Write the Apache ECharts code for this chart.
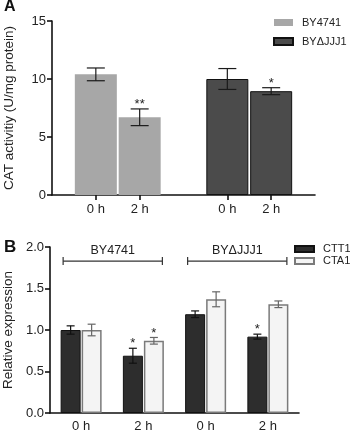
<!DOCTYPE html>
<html>
<head>
<meta charset="utf-8">
<script src="https://cdn.jsdelivr.net/npm/echarts@6/dist/echarts.min.js"></script>
<style>html,body{margin:0;padding:0;background:#fff}#chart{width:350px;height:431px}</style>
</head>
<body>
<div id="chart"></div>
<script>
var FONT = '"Liberation Sans", Arial, sans-serif';

// panel A - CAT activity
var posA = [0, 1, 3, 4];
var labelsA = ['0 h', '2 h', '0 h', '2 h'];
var wtA = [10.4, 6.7];
var wtErrA = [0.55, 0.72];
var mutA = [10.0, 8.95];
var mutErrA = [0.9, 0.3];
var sigA = ['', '**', '', '*'];

// panel B - relative expression
var catsB = ['0 h', '2 h', '0 h', '2 h'];
var ctt1 = [1.0, 0.69, 1.19, 0.92];
var ctt1Err = [0.05, 0.09, 0.04, 0.03];
var cta1 = [1.0, 0.87, 1.37, 1.31];
var cta1Err = [0.07, 0.04, 0.09, 0.04];
var sigCtt1 = ['', '*', '', '*'];
var sigCta1 = ['', '*', '', ''];
var strains = ['BY4741', 'BYΔJJJ1'];
var strainSpan = [[0, 1], [2, 3]];
var bracketY = 1.83;

var allA = wtA.concat(mutA);
var allErrA = wtErrA.concat(mutErrA);

// error bar drawer, values read from the arrays by data index
function errItem(xs, ys, es, sig, half, color, dx) {
    return function (params, api) {
        var i = params.dataIndex;
        var top = api.coord([xs[i], ys[i] + es[i]]);
        var bot = api.coord([xs[i], ys[i] - es[i]]);
        var cx = top[0] + dx;
        var st = {stroke: color, lineWidth: 1.2};
        var kids = [
            {type: 'line', shape: {x1: cx, y1: top[1], x2: cx, y2: bot[1]}, style: st},
            {type: 'line', shape: {x1: cx - half, y1: top[1], x2: cx + half, y2: top[1]}, style: st},
            {type: 'line', shape: {x1: cx - half, y1: bot[1], x2: cx + half, y2: bot[1]}, style: st}
        ];
        if (sig[i]) {
            kids.push({type: 'text', style: {text: sig[i], x: cx, y: top[1] + 2, textAlign: 'center',
                textVerticalAlign: 'bottom', font: '13px ' + FONT, fill: '#222'}});
        }
        return {type: 'group', children: kids};
    };
}

var axisTxt = {color: '#222', fontSize: 13, fontFamily: FONT};
var lineSt = {color: '#111', width: 1.6};
var idxB = catsB.map(function (c, i) { return i; });

var chart = echarts.init(document.getElementById('chart'));
chart.setOption({
    animation: false,
    title: [
        {text: 'A', left: 4, top: -1, padding: 0,
            textStyle: {fontSize: 16, fontWeight: 'bold', fontFamily: FONT, color: '#111'}},
        {text: 'B', left: 4, top: 239, padding: 0,
            textStyle: {fontSize: 17, fontWeight: 'bold', fontFamily: FONT, color: '#111'}}
    ],
    legend: [
        {data: ['BY4741', 'BYΔJJJ1'], orient: 'vertical', left: 268, top: 12, icon: 'rect',
            itemWidth: 19, itemHeight: 7, itemGap: 8,
            textStyle: {fontSize: 11, fontFamily: FONT, color: '#222', padding: [0, 0, 0, 4]}},
        {data: ['CTT1', 'CTA1'], orient: 'vertical', left: 289, top: 238, icon: 'rect',
            itemWidth: 19, itemHeight: 6, itemGap: 0,
            textStyle: {fontSize: 11, lineHeight: 12, fontFamily: FONT, color: '#222', padding: [0, 0, 0, 4]}}
    ],
    grid: [
        {left: 52, top: 21, width: 263, height: 174, outerBoundsMode: 'none'},
        {left: 50, top: 247, width: 249, height: 166, outerBoundsMode: 'none'}
    ],
    xAxis: [
        {type: 'value', gridIndex: 0, min: -1, max: 5, splitLine: {show: false},
            axisLine: {show: true, onZero: false, lineStyle: lineSt},
            axisTick: {show: true, length: 5, customValues: posA, lineStyle: lineSt},
            axisLabel: Object.assign({margin: 8, customValues: posA, formatter: function (v) {
                return labelsA[posA.indexOf(v)];
            }}, axisTxt)},
        {type: 'category', gridIndex: 1, data: catsB,
            axisLine: {lineStyle: lineSt},
            axisTick: {alignWithLabel: true, length: 5, lineStyle: lineSt},
            axisLabel: Object.assign({margin: 7}, axisTxt)}
    ],
    yAxis: [
        {type: 'value', gridIndex: 0, min: 0, max: 15, interval: 5, splitLine: {show: false},
            name: 'CAT activitiy (U/mg protein)', nameLocation: 'middle', nameGap: 36,
            nameTextStyle: {fontSize: 13.5, fontFamily: FONT, color: '#222'},
            axisLine: {show: true, onZero: false, lineStyle: lineSt},
            axisTick: {show: true, length: 5, lineStyle: lineSt},
            axisLabel: Object.assign({margin: 6}, axisTxt)},
        {type: 'value', gridIndex: 1, min: 0, max: 2, interval: 0.5, splitLine: {show: false},
            name: 'Relative expression', nameLocation: 'middle', nameGap: 35,
            nameTextStyle: {fontSize: 13.5, fontFamily: FONT, color: '#222'},
            axisLine: {show: true, onZero: false, lineStyle: lineSt},
            axisTick: {show: true, length: 5, lineStyle: lineSt},
            axisLabel: Object.assign({margin: 6, formatter: function (v) { return v.toFixed(1); }}, axisTxt)}
    ],
    series: [
        {name: 'BY4741', type: 'bar', xAxisIndex: 0, yAxisIndex: 0, barWidth: 42, barGap: '-100%',
            itemStyle: {color: '#a7a7a7'},
            data: wtA.map(function (v, i) { return [posA[i], v]; })},
        {name: 'BYΔJJJ1', type: 'bar', xAxisIndex: 0, yAxisIndex: 0, barWidth: 42, barGap: '-100%',
            itemStyle: {color: '#4b4b4b', borderColor: '#111', borderWidth: 1},
            data: mutA.map(function (v, i) { return [posA[i + 2], v]; })},
        {type: 'custom', xAxisIndex: 0, yAxisIndex: 0, z: 5, clip: false,
            renderItem: errItem(posA, allA, allErrA, sigA, 9, '#1a1a1a', 0),
            data: allA.map(function (v, i) { return [posA[i], v]; })},
        {name: 'CTT1', type: 'bar', xAxisIndex: 1, yAxisIndex: 1, barWidth: 20, barGap: '5%',
            itemStyle: {color: '#2d2d2d', borderColor: '#111', borderWidth: 1},
            data: ctt1},
        {name: 'CTA1', type: 'bar', xAxisIndex: 1, yAxisIndex: 1, barWidth: 20, barGap: '5%',
            itemStyle: {color: '#f4f4f4', borderColor: '#7a7a7a', borderWidth: 1.5},
            data: cta1},
        {type: 'custom', xAxisIndex: 1, yAxisIndex: 1, z: 5, clip: false,
            renderItem: errItem(idxB, ctt1, ctt1Err, sigCtt1, 4, '#111', -10.5),
            data: ctt1.map(function (v, i) { return [i, v]; })},
        {type: 'custom', xAxisIndex: 1, yAxisIndex: 1, z: 5, clip: false,
            renderItem: errItem(idxB, cta1, cta1Err, sigCta1, 4, '#666', 10.5),
            data: cta1.map(function (v, i) { return [i, v]; })},
        {type: 'custom', xAxisIndex: 1, yAxisIndex: 1, z: 5, clip: false,
            renderItem: function (params, api) {
                var s = strainSpan[params.dataIndex];
                var a = api.coord([s[0], bracketY]);
                var b = api.coord([s[1], bracketY]);
                var x1 = a[0] - 18, x2 = b[0] + 19, y = a[1];
                var st = {stroke: '#333', lineWidth: 1.2};
                return {type: 'group', children: [
                    {type: 'line', shape: {x1: x1, y1: y, x2: x2, y2: y}, style: st},
                    {type: 'line', shape: {x1: x1, y1: y - 4, x2: x1, y2: y + 4}, style: st},
                    {type: 'line', shape: {x1: x2, y1: y - 4, x2: x2, y2: y + 4}, style: st},
                    {type: 'text', style: {text: strains[params.dataIndex], x: (x1 + x2) / 2, y: y - 11,
                        textAlign: 'center', textVerticalAlign: 'middle', font: '12.5px ' + FONT, fill: '#222'}}
                ]};
            },
            data: strainSpan.map(function (s) { return [s[0], bracketY]; })}
    ]
});
</script>
</body>
</html>
